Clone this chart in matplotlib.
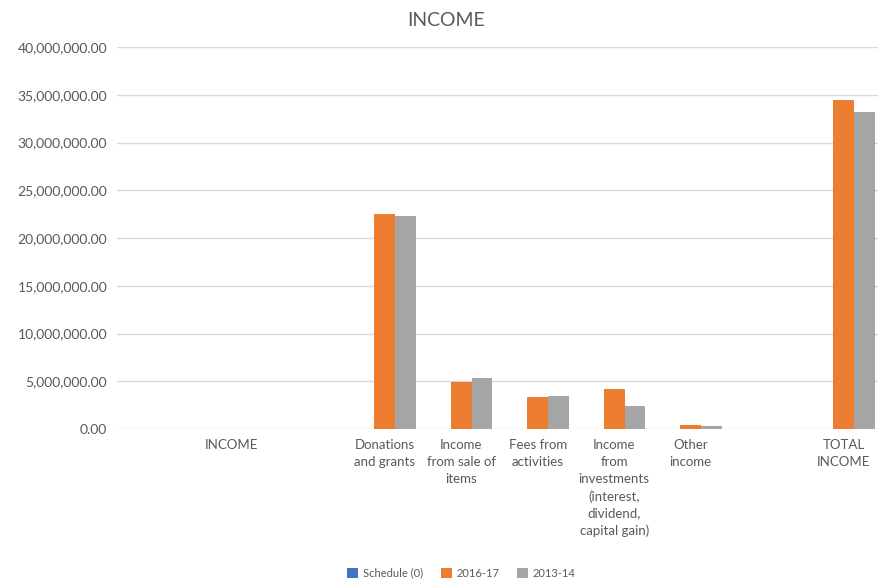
import matplotlib.pyplot as plt
from matplotlib.ticker import FuncFormatter
import numpy as np

plt.rcParams['font.family'] = ['Lato', 'DejaVu Sans']

categories = ["", "INCOME", "", "Donations\nand grants", "Income\nfrom sale of\nitems",
              "Fees from\nactivities",
              "Income\nfrom\ninvestments\n(interest,\ndividend,\ncapital gain)",
              "Other\nincome", "", "TOTAL\nINCOME"]
series_names = ["Schedule (0)", "2016-17", "2013-14"]
vals_blank = [0, 0, 0, 0, 0, 0, 0, 0, 0, 0]
vals_2016 = [0, 0, 0, 22550000, 4940000, 3360000, 4230000, 390000, 0, 34500000]
vals_2013 = [0, 0, 0, 22300000, 5330000, 3470000, 2380000, 300000, 0, 33200000]
colors = ["#4472C4", "#ED7D31", "#A5A5A5"]

fig = plt.figure(figsize=(8.79, 5.83), dpi=100)
ax = fig.add_axes([117 / 879, 154 / 583, 765 / 879, 382 / 583])

x = np.arange(len(categories))
w = 0.268
for i, (name, vals) in enumerate(zip(series_names, [vals_blank, vals_2016, vals_2013])):
    ax.bar(x + (i - 1) * w, vals, w, color=colors[i], label=name, zorder=3)

ax.set_xlim(-0.5, len(categories) - 0.5)
ax.set_ylim(0, 40000000)
ax.set_yticks(np.arange(0, 40000001, 5000000))
ax.yaxis.set_major_formatter(FuncFormatter(lambda v, p: f"{v:,.2f}"))
ax.grid(axis="y", color="#d9d9d9", linewidth=1, zorder=0)
ax.set_xticks(x)
ax.set_xticklabels(categories, va="top", linespacing=1.5, fontsize=9.5)
for s in ax.spines.values():
    s.set_visible(False)
ax.tick_params(axis="both", length=0, colors="#595959")
ax.tick_params(axis="y", pad=7, labelsize=10)
ax.tick_params(axis="x", pad=7)

fig.text(0.508, 0.965, "INCOME", ha="center", va="center", fontsize=14, color="#595959")
fig.legend(loc="center", bbox_to_anchor=(0.525, 0.017), ncol=3, frameon=False,
           fontsize=8, handlelength=1.0, handleheight=1.0, columnspacing=1.6,
           handletextpad=0.4, labelcolor="#595959")

fig.savefig("out.png", dpi=100)
